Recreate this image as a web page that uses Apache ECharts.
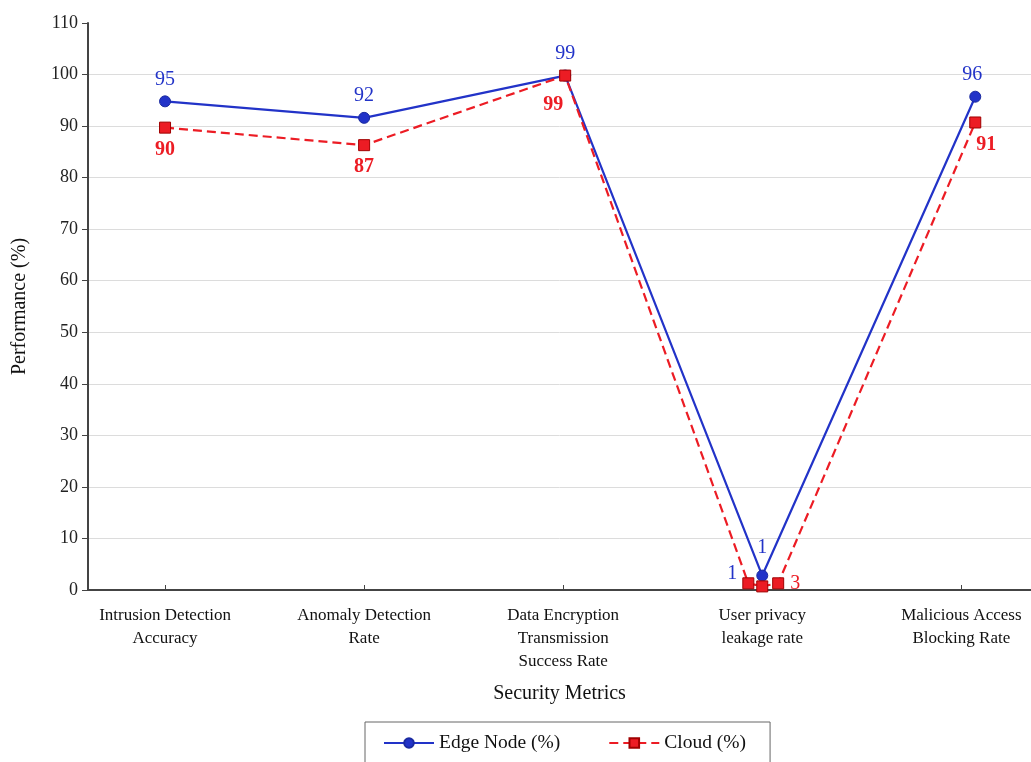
<!DOCTYPE html>
<html><head><meta charset="utf-8">
<script src="https://cdn.jsdelivr.net/npm/echarts@6/dist/echarts.min.js"></script>
<style>html,body{margin:0;padding:0;background:#fff}#c{width:1031px;height:762px}</style>
</head><body><div id="c"></div>
<script>
const categories = ['Intrusion Detection\nAccuracy','Anomaly Detection\nRate','Data Encryption\nTransmission\nSuccess Rate','User privacy\nleakage rate','Malicious Access\nBlocking Rate'];
const categoryPos = [0, 1, 2, 3, 4];
const yTicks = [0,10,20,30,40,50,60,70,80,90,100,110];
const edgeX = [0, 1, 2.01, 3, 4.07];
const edgeValues = [94.8, 91.6, 99.8, 2.8, 95.7];
const edgeLabels = ['95','92','99','1','96'];
const cloudX = [0, 1, 2.01, 2.93, 3, 3.08, 4.07];
const cloudValues = [89.7, 86.3, 99.8, 1.3, 0.7, 1.3, 90.7];
const cloudLabels = ['90','87','99','1','','3','91'];

const BLUE = '#2233c8', RED = '#ec1c24', FONT = '"Liberation Serif","DejaVu Serif",serif';

const edgeLabelStyle = [
  {}, {}, {}, {distance: 12}, {offset: [-3, 0]}
];
const cloudLabelStyle = [
  {position: 'bottom'}, {position: 'bottom'}, {position: 'bottom', offset: [-12, 7]},
  {position: 'left', distance: 5, offset: [0, -10], color: BLUE, fontWeight: 'normal'},
  {show: false},
  {position: 'right', distance: 6, fontWeight: 'normal'},
  {position: 'bottom', offset: [11, 0]}
];

const edgeData = edgeX.map((x, i) => ({value: [x, edgeValues[i]], label: Object.assign({formatter: edgeLabels[i]}, edgeLabelStyle[i])}));
const cloudData = cloudX.map((x, i) => ({value: [x, cloudValues[i]], label: Object.assign({formatter: cloudLabels[i]}, cloudLabelStyle[i])}));

const chart = echarts.init(document.getElementById('c'), null, {renderer: 'canvas'});
chart.setOption({
  backgroundColor: '#fff',
  animation: false,
  grid: {left: 88, right: 0, top: 23, bottom: 172, containLabel: false},
  xAxis: {
    type: 'value', min: -0.387, max: 4.35,
    name: 'Security Metrics', nameLocation: 'middle', nameGap: 94,
    nameTextStyle: {fontFamily: FONT, fontSize: 20, color: '#111'},
    axisLine: {show: true, onZero: false, lineStyle: {color: '#444', width: 2}},
    axisTick: {show: true, inside: true, length: 5, customValues: categoryPos, lineStyle: {color: '#444'}},
    axisLabel: {customValues: categoryPos, formatter: v => categories[Math.round(v)], fontFamily: FONT, fontSize: 17, color: '#111', lineHeight: 23, margin: 14},
    splitLine: {show: false}
  },
  yAxis: {
    type: 'value', min: 0, max: 110, interval: 10,
    name: 'Performance (%)', nameLocation: 'middle', nameGap: 58,
    nameTextStyle: {fontFamily: FONT, fontSize: 20, color: '#111'},
    axisLine: {show: true, onZero: false, lineStyle: {color: '#444', width: 2}},
    axisTick: {show: true, length: 6, lineStyle: {color: '#444'}},
    axisLabel: {fontFamily: FONT, fontSize: 18, color: '#222', margin: 10},
    splitLine: {show: true, showMaxLine: false, lineStyle: {color: '#dcdcdc', width: 1}}
  },
  legend: {
    left: 365, top: 722,
    data: ['Edge Node (%)', 'Cloud (%)'],
    itemWidth: 50, itemHeight: 12, itemGap: 48,
    borderColor: '#666', borderWidth: 1, borderRadius: 0,
    padding: [11, 24, 14, 18],
    textStyle: {fontFamily: FONT, fontSize: 19.5, color: '#111'}
  },
  series: [
    {
      name: 'Edge Node (%)', type: 'line', data: edgeData,
      symbol: 'circle', symbolSize: 11,
      lineStyle: {color: BLUE, width: 2.2},
      itemStyle: {color: BLUE, borderColor: '#1a2aa0', borderWidth: 1},
      label: {show: true, position: 'top', distance: 6, color: BLUE, fontFamily: FONT, fontSize: 20},
      z: 2
    },
    {
      name: 'Cloud (%)', type: 'line', data: cloudData,
      symbol: 'rect', symbolSize: 11,
      lineStyle: {color: RED, width: 2.2, type: [9, 5]},
      itemStyle: {color: RED, borderColor: '#a00000', borderWidth: 1},
      label: {show: true, position: 'bottom', distance: 6, color: RED, fontFamily: FONT, fontSize: 20, fontWeight: 'bold'},
      z: 3
    }
  ]
});
</script></body></html>
